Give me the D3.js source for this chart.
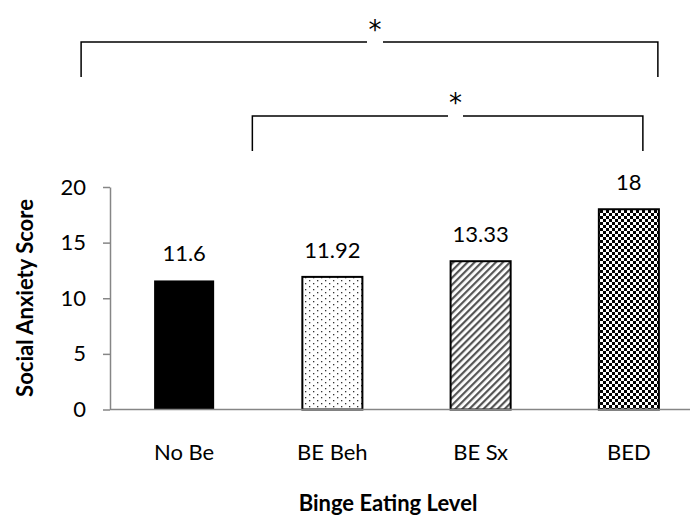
<!DOCTYPE html>
<html>
<head>
<meta charset="utf-8">
<script src="https://cdn.jsdelivr.net/npm/d3@7"></script>
<style>
  html, body { margin: 0; padding: 0; background: #fff; }
  svg { display: block; }
  text { font-family: Lato, "Open Sans", sans-serif; fill: #000; }
</style>
</head>
<body>
<svg id="chart" width="690" height="516"></svg>
<script>
// Binge eating level groups and their mean social anxiety scores
const categories = ["No Be", "BE Beh", "BE Sx", "BED"];
const scores = [11.6, 11.92, 13.33, 18];
const valueLabels = ["11.6", "11.92", "13.33", "18"];
const fills = ["solid", "dots", "stripes", "checker"];
const yTicks = [0, 5, 10, 15, 20];
// Significant pairwise comparisons
const comparisons = [
  { from: "No Be", to: "BED", label: "*" },
  { from: "BE Beh", to: "BED", label: "*" }
];

const svg = d3.select("#chart");

const x = d3.scaleBand()
  .domain(categories)
  .range([110, 703])
  .paddingInner(0.595)
  .paddingOuter(0.2975);

const y = d3.scaleLinear()
  .domain([0, 20])
  .range([409.5, 187]);

// Fill patterns
const defs = svg.append("defs");

const dots = defs.append("pattern").attr("id", "p-dots")
  .attr("patternUnits", "userSpaceOnUse").attr("width", 8).attr("height", 6);
dots.append("rect").attr("width", 8).attr("height", 6).attr("fill", "#fff");
dots.append("rect").attr("x", 1).attr("y", 1).attr("width", 1.3).attr("height", 1.3).attr("fill", "#333");
dots.append("rect").attr("x", 5).attr("y", 4).attr("width", 1.3).attr("height", 1.3).attr("fill", "#333");

const stripes = defs.append("pattern").attr("id", "p-stripes")
  .attr("patternUnits", "userSpaceOnUse").attr("width", 5).attr("height", 5)
  .attr("patternTransform", "rotate(45)");
stripes.append("rect").attr("width", 5).attr("height", 5).attr("fill", "#fff");
stripes.append("rect").attr("x", 0).attr("y", 0).attr("width", 2.2).attr("height", 5).attr("fill", "#555");

const checker = defs.append("pattern").attr("id", "p-checker")
  .attr("patternUnits", "userSpaceOnUse").attr("width", 6).attr("height", 6);
checker.append("rect").attr("width", 6).attr("height", 6).attr("fill", "#fff");
checker.append("rect").attr("x", 0).attr("y", 0).attr("width", 3).attr("height", 3).attr("fill", "#000");
checker.append("rect").attr("x", 3).attr("y", 3).attr("width", 3).attr("height", 3).attr("fill", "#000");

const fillOf = f => f === "solid" ? "#000" : `url(#p-${f})`;

// Y axis
const yAxis = svg.append("g")
  .attr("transform", `translate(${x.range()[0]},0)`)
  .call(d3.axisLeft(y).tickValues(yTicks).tickSize(7).tickSizeOuter(0).tickPadding(17));
yAxis.select(".domain").attr("stroke", "#868686").attr("stroke-width", 1.5);
yAxis.selectAll(".tick line").attr("stroke", "#868686").attr("stroke-width", 1.5);
yAxis.selectAll(".tick text")
  .attr("font-size", 22).attr("fill", "#000");

// Bars
const data = categories.map((c, i) => ({ c, v: scores[i], label: valueLabels[i], fill: fills[i] }));

svg.append("g").selectAll("rect")
  .data(data)
  .join("rect")
  .attr("x", d => x(d.c))
  .attr("y", d => y(d.v))
  .attr("width", x.bandwidth())
  .attr("height", d => y(0) - y(d.v))
  .attr("fill", d => fillOf(d.fill))
  .attr("stroke", "#000")
  .attr("stroke-width", d => d.fill === "solid" ? 0 : 2);

// Baseline (category axis)
svg.append("line")
  .attr("x1", x.range()[0]).attr("x2", 690)
  .attr("y1", y(0)).attr("y2", y(0))
  .attr("stroke", "#868686").attr("stroke-width", 1.5);

// Value labels
svg.append("g").selectAll("text")
  .data(data)
  .join("text")
  .attr("x", d => x(d.c) + x.bandwidth() / 2)
  .attr("y", d => y(d.v) - 19)
  .attr("text-anchor", "middle")
  .attr("font-size", 22)
  .text(d => d.label);

// Category labels
svg.append("g").selectAll("text")
  .data(categories)
  .join("text")
  .attr("x", d => x(d) + x.bandwidth() / 2)
  .attr("y", 460)
  .attr("text-anchor", "middle")
  .attr("font-size", 22)
  .text(d => d);

// Axis titles
svg.append("text")
  .attr("x", 388).attr("y", 511)
  .attr("text-anchor", "middle")
  .attr("font-size", 22).attr("font-weight", "bold")
  .text("Binge Eating Level");

svg.append("text")
  .attr("transform", "translate(33,298) rotate(-90)")
  .attr("text-anchor", "middle")
  .attr("font-size", 22).attr("font-weight", "bold")
  .text("Social Anxiety Score");

// Significance brackets
const center = c => x(c) + x.bandwidth() / 2;
const bracketLayout = [
  { left: x("No Be") - 73, right: center("BED") + 29, y: 42, drop: 35, gapC: 375, gapW: 16, starY: 39 },
  { left: x("BE Beh") - 50, right: center("BED") + 14, y: 116, drop: 35, gapC: 455.5, gapW: 15, starY: 112 }
];

comparisons.forEach((cmp, i) => {
  const b = bracketLayout[i];
  svg.append("path")
    .attr("fill", "none").attr("stroke", "#000").attr("stroke-width", 1.5)
    .attr("d",
      `M${b.left},${b.y + b.drop}V${b.y}H${b.gapC - b.gapW / 2}` +
      `M${b.gapC + b.gapW / 2},${b.y}H${b.right}V${b.y + b.drop}`);
  svg.append("text")
    .attr("x", b.gapC).attr("y", b.starY)
    .attr("text-anchor", "middle")
    .style("font-family", "'DejaVu Sans', sans-serif")
    .attr("font-size", 26)
    .text(cmp.label);
});
</script>
</body>
</html>
